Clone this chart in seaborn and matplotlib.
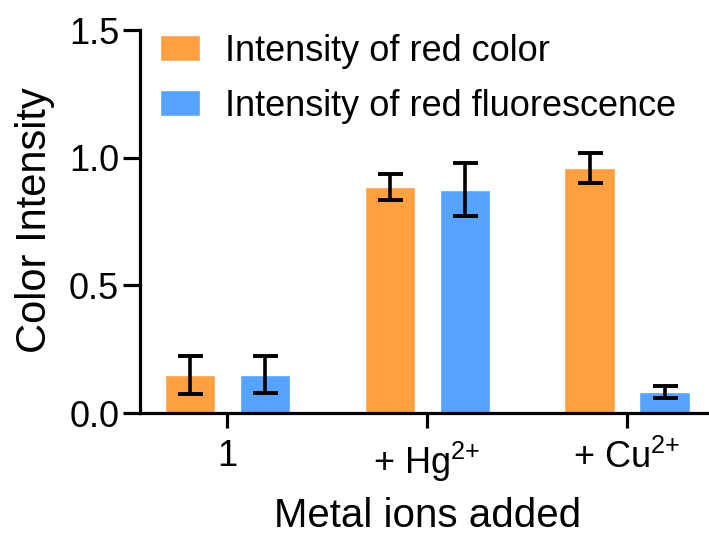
import matplotlib
matplotlib.use("Agg")
import matplotlib.pyplot as plt
import seaborn as sns
import pandas as pd

# Data
groups = ["1", "+ Hg$^{2{+}}$", "+ Cu$^{2{+}}$"]
series = ["Intensity of red color", "Intensity of red fluorescence"]
red_color = [0.15, 0.885, 0.96]
red_color_err = [0.075, 0.05, 0.06]
red_fluor = [0.15, 0.875, 0.082]
red_fluor_err = [0.072, 0.105, 0.025]
colors = ["#FFA040", "#55A2FF"]

df = pd.DataFrame({
    "group": groups * 2,
    "series": [series[0]] * 3 + [series[1]] * 3,
    "value": red_color + red_fluor,
})
errs = [red_color_err, red_fluor_err]

sns.set_style("ticks")
plt.rcParams["font.family"] = ["Liberation Sans", "DejaVu Sans"]
plt.rcParams["mathtext.fontset"] = "custom"
plt.rcParams["mathtext.rm"] = "Liberation Sans"
plt.rcParams["mathtext.it"] = "Liberation Sans"
for key in ["text.color", "axes.labelcolor", "xtick.color", "ytick.color",
            "axes.edgecolor"]:
    plt.rcParams[key] = "black"

fig = plt.figure(figsize=(7.09, 5.38), dpi=100)
ax = fig.add_axes([0.1975, 0.2323, 0.8011, 0.7117])

sns.barplot(data=df, x="group", y="value", hue="series", order=groups,
            hue_order=series, palette=colors, width=0.75, gap=0.333,
            errorbar=None, saturation=1, ax=ax)

# Error bars centred on each bar
for cont, err in zip(ax.containers, errs):
    for bar, e in zip(cont, err):
        cx = bar.get_x() + bar.get_width() / 2
        ax.errorbar(cx, bar.get_height(), yerr=e, fmt="none", ecolor="black",
                    elinewidth=2.6, capsize=9, capthick=2.8, zorder=5)

ax.set_xlim(-0.435, 2.405)
ax.set_ylim(0, 1.5)
ax.set_yticks([0.0, 0.5, 1.0, 1.5])
ax.set_yticklabels(["0.0", "0.5", "1.0", "1.5"])

for s in ["top", "right"]:
    ax.spines[s].set_visible(False)
for s in ["left", "bottom"]:
    ax.spines[s].set_linewidth(2.3)
ax.tick_params(axis="both", width=2.3, length=12, labelsize=26, color="black")
ax.tick_params(axis="y", pad=3)
ax.tick_params(axis="x", length=11, pad=8)

ax.set_xlabel("Metal ions added", fontsize=29)
ax.set_ylabel("Color Intensity", fontsize=30)
ax.xaxis.set_label_coords(0.507, -0.22)
ax.yaxis.set_label_coords(-0.15, 0.504)

ax.legend(loc="upper left", bbox_to_anchor=(0.035, 0.99), frameon=False,
          fontsize=26, handlelength=1.1, handleheight=0.72, handletextpad=0.7,
          labelspacing=0.55, borderaxespad=0, borderpad=0)

fig.savefig("out.png", dpi=100)
